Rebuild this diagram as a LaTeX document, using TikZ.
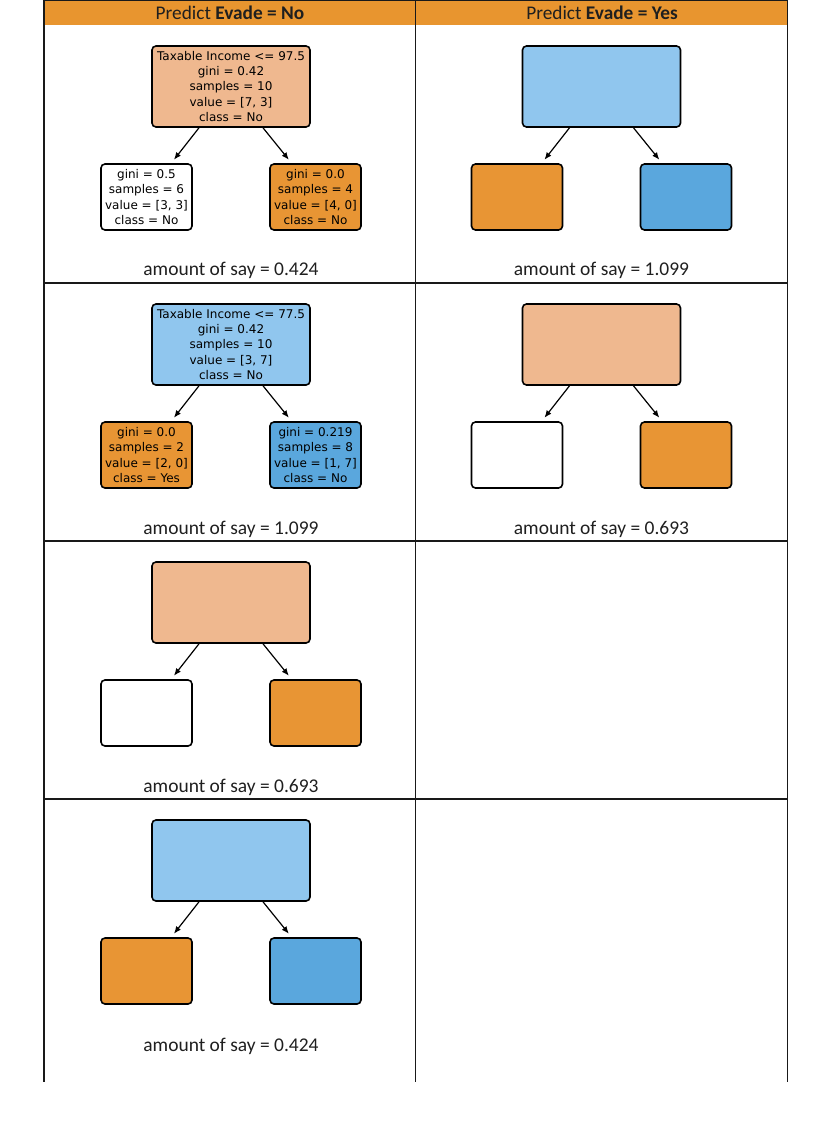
\documentclass[tikz,border=0pt]{standalone}
\usepackage{fontspec}
\setmainfont{Carlito}
\newfontfamily\dejavu{DejaVu Sans}
\usetikzlibrary{arrows.meta}
\definecolor{hdr}{HTML}{E8952F}
\definecolor{lor}{HTML}{EFB88F}
\definecolor{dor}{HTML}{E89534}
\definecolor{lbl}{HTML}{90C6EE}
\definecolor{dbl}{HTML}{5AA7DD}
\definecolor{txt}{HTML}{1F1F1F}
\tikzset{
  rootbox/.style={draw=black, line width=1.2pt, rounded corners=3pt, minimum width=118.5pt, minimum height=60.75pt, inner sep=0pt, align=center, font=\dejavu\fontsize{9}{11.6}\selectfont},
  leafbox/.style={draw=black, line width=1.2pt, rounded corners=3pt, minimum width=68.25pt, minimum height=49.5pt, inner sep=0pt, align=center, font=\dejavu\fontsize{9}{11.3}\selectfont},
  arr/.style={draw=black, line width=0.9pt, -{Latex[length=5.5pt,width=4.5pt]}},
  say/.style={font=\fontsize{14.6}{16}\selectfont, text=txt, inner sep=0pt},
  hdrtext/.style={font=\fontsize{14.5}{16}\selectfont, text=txt, inner sep=0pt},
  grid/.style={draw=black!90, line width=0.9pt}
}
% #1 root center x, #2 root top y, #3 name, #4-#6 colours, #7-#9 texts
\newcommand\dtree[9]{%
  \node[rootbox, fill=#4] (#3r) at (#1, #2+40.5) {#7};
  \node[leafbox, fill=#5] (#3a) at (#1-84.5, #2+151) {#8};
  \node[leafbox, fill=#6] (#3b) at (#1+84.5, #2+151) {#9};
  \draw[arr] ([xshift=-24pt]#3r.south) -- ([xshift=20.6pt, yshift=2.6pt]#3a.north);
  \draw[arr] ([xshift=24pt]#3r.south) -- ([xshift=-20pt, yshift=2.6pt]#3b.north);
}
\begin{document}
\begin{tikzpicture}[x=0.75pt, y=-0.75pt]
\useasboundingbox (0,0) rectangle (832,1125);
% header
\fill[hdr] (44,0) rectangle (788,25);
\node[hdrtext] (h1) at (230,12.5) {Predict \textbf{Evade = No}};
\node[hdrtext] (h2) at (602,12.5) {Predict \textbf{Evade = Yes}};
% grid
\draw[grid] (44,0.5) -- (788,0.5);
\draw[grid] (44,283) -- (788,283);
\draw[grid] (44,541) -- (788,541);
\draw[grid] (44,799) -- (788,799);
\draw[grid] (44,0) -- (44,1082);
\draw[grid] (415.5,0) -- (415.5,1082);
\draw[grid] (787.5,0) -- (787.5,1082);
% row 1
\dtree{231}{46}{a}{lor}{white}{dor}
  {Taxable Income <= 97.5\\gini = 0.42\\samples = 10\\value = [7, 3]\\class = No}
  {gini = 0.5\\samples = 6\\value = [3, 3]\\class = No}
  {gini = 0.0\\samples = 4\\value = [4, 0]\\class = No}
\node[say] (sa) at (231,270) {amount of say = 0.424};
\dtree{601.5}{46}{b}{lbl}{dor}{dbl}{}{}{}
\node[say] (sb) at (601.5,270) {amount of say = 1.099};
% row 2
\dtree{231}{304}{c}{lbl}{dor}{dbl}
  {Taxable Income <= 77.5\\gini = 0.42\\samples = 10\\value = [3, 7]\\class = No}
  {gini = 0.0\\samples = 2\\value = [2, 0]\\class = Yes}
  {gini = 0.219\\samples = 8\\value = [1, 7]\\class = No}
\node[say] (sc) at (231,529) {amount of say = 1.099};
\dtree{601.5}{304}{d}{lor}{white}{dor}{}{}{}
\node[say] (sd) at (601.5,529) {amount of say = 0.693};
% row 3
\dtree{231}{562}{e}{lor}{white}{dor}{}{}{}
\node[say] (se) at (231,787) {amount of say = 0.693};
% row 4
\dtree{231}{820}{f}{lbl}{dor}{dbl}{}{}{}
\node[say] (sf) at (231,1046) {amount of say = 0.424};
\end{tikzpicture}
\end{document}
